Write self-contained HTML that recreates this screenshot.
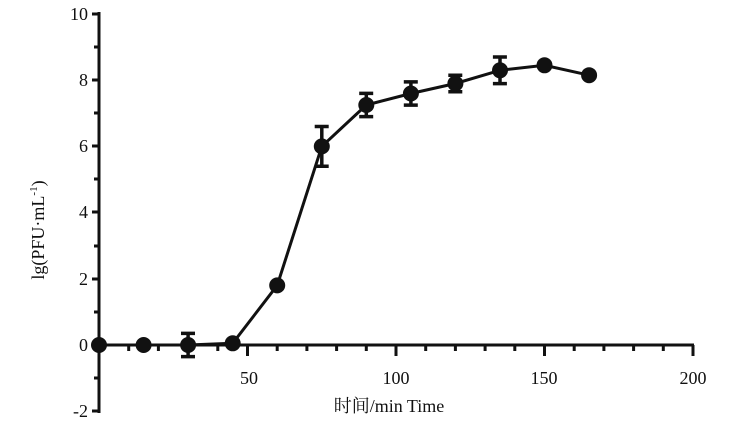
<!DOCTYPE html>
<html><head><style>body{margin:0;background:#fff}svg{display:block}</style></head><body>
<svg width="744" height="430" xmlns="http://www.w3.org/2000/svg" font-family="Liberation Serif, serif">
<rect width="744" height="430" fill="#fff"/>
<g stroke="#111" stroke-width="3" fill="none">
<line x1="99" y1="12" x2="99" y2="413"/>
<line x1="97" y1="345" x2="694" y2="345"/>
<path d="M92 14H99M92 80H99M92 146H99M92 212H99M92 279H99M92 345H99M92 411H99"/>
<path d="M94 47H99M94 113H99M94 179H99M94 246H99M94 312H99M94 378H99"/>
<path d="M128.7 345v6M158.4 345v6M188.1 345v6M217.8 345v6M277.2 345v6M306.9 345v6M336.6 345v6M366.3 345v6M425.7 345v6M455.4 345v6M485.1 345v6M514.8 345v6M574.2 345v6M603.9 345v6M633.6 345v6M663.3 345v6"/>
<path d="M247.5 345v11M396 345v11M544.5 345v11M693 345v11"/>
</g>
<g font-size="18" fill="#111" text-anchor="end">
<text x="88" y="20">10</text><text x="88" y="86">8</text><text x="88" y="152">6</text><text x="88" y="218">4</text><text x="88" y="285">2</text><text x="88" y="351">0</text><text x="88" y="417">-2</text>
</g>
<g font-size="18" fill="#111" text-anchor="middle">
<text x="249" y="384">50</text><text x="396" y="384">100</text><text x="544" y="384">150</text><text x="693" y="384">200</text>
<text x="389" y="412" font-family="Liberation Serif, Noto Serif CJK SC, serif">时间/min Time</text>
</g>
<text transform="translate(44 230) rotate(-90)" font-size="18" fill="#111" text-anchor="middle">lg(PFU·mL<tspan font-size="11" dy="-7">-1</tspan><tspan dy="7">)</tspan></text>
<g stroke="#111" stroke-width="3" fill="none">
<polyline points="99,345 143.6,345 188.1,345 232.7,343.3 277.2,285.4 321.8,146.4 366.3,105 410.9,93.5 455.4,83.5 500,70.3 544.5,65.3 589.1,75.2"/>
<g stroke-width="3.5">
<path d="M188.1 333.4V356.6M181 333.4h14M181 356.6h14"/>
<path d="M321.8 126.5V166.3M314.7 126.5h14M314.7 166.3h14"/>
<path d="M366.3 93.4V116.6M359.2 93.4h14M359.2 116.6h14"/>
<path d="M410.9 81.9V105.1M403.8 81.9h14M403.8 105.1h14"/>
<path d="M455.4 75.2V91.8M448.3 75.2h14M448.3 91.8h14"/>
<path d="M500 57V83.6M492.9 57h14M492.9 83.6h14"/>
</g>
</g>
<g fill="#111">
<circle cx="99" cy="345" r="8"/><circle cx="143.6" cy="345" r="8"/><circle cx="188.1" cy="345" r="8"/><circle cx="232.7" cy="343.3" r="8"/><circle cx="277.2" cy="285.4" r="8"/><circle cx="321.8" cy="146.4" r="8"/><circle cx="366.3" cy="105" r="8"/><circle cx="410.9" cy="93.5" r="8"/><circle cx="455.4" cy="83.5" r="8"/><circle cx="500" cy="70.3" r="8"/><circle cx="544.5" cy="65.3" r="8"/><circle cx="589.1" cy="75.2" r="8"/>
</g>
</svg>
</body></html>
